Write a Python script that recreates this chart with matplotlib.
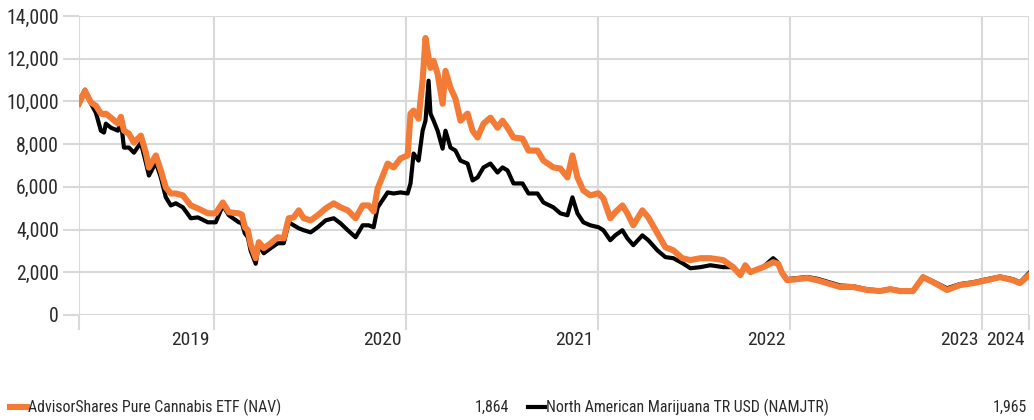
import matplotlib
matplotlib.use("Agg")
import matplotlib.pyplot as plt
import matplotlib.transforms as mtransforms
from matplotlib.lines import Line2D
from matplotlib import font_manager

# pick a condensed face if one is around
have = {f.name for f in font_manager.fontManager.ttflist}
fam = "Liberation Sans"
for cand in ["Roboto Condensed", "Liberation Sans Narrow", "Archivo Narrow", "PT Sans Narrow",
             "Open Sans Condensed", "Barlow Semi Condensed"]:
    if cand in have:
        fam = cand
        break
plt.rcParams['font.family'] = [fam, 'DejaVu Sans']

# dates as decimal years, values growth of 10,000
dates = [
    2019.298, 2019.329, 2019.360, 2019.386, 2019.412, 2019.428, 2019.438, 2019.464,
    2019.501, 2019.516, 2019.532, 2019.558, 2019.584, 2019.620, 2019.646, 2019.662,
    2019.698, 2019.724, 2019.750, 2019.776, 2019.802, 2019.839, 2019.880, 2019.917,
    2019.969, 2020.010, 2020.047, 2020.078, 2020.130, 2020.146, 2020.161, 2020.177,
    2020.192, 2020.218, 2020.234, 2020.260, 2020.296, 2020.333, 2020.364, 2020.390,
    2020.416, 2020.442, 2020.468, 2020.504, 2020.541, 2020.582, 2020.624, 2020.660,
    2020.697, 2020.738, 2020.775, 2020.806, 2020.832, 2020.853, 2020.905, 2020.936,
    2020.972, 2021.009, 2021.024, 2021.040, 2021.066, 2021.087, 2021.102, 2021.118,
    2021.128, 2021.144, 2021.165, 2021.191, 2021.206, 2021.232, 2021.258, 2021.284,
    2021.321, 2021.347, 2021.373, 2021.404, 2021.440, 2021.477, 2021.503, 2021.529,
    2021.560, 2021.607, 2021.638, 2021.685, 2021.716, 2021.768, 2021.804, 2021.841,
    2021.867, 2021.893, 2021.924, 2021.960, 2022.002, 2022.028, 2022.064, 2022.090,
    2022.127, 2022.153, 2022.184, 2022.231, 2022.262, 2022.309, 2022.351, 2022.392,
    2022.439, 2022.481, 2022.533, 2022.585, 2022.652, 2022.704, 2022.741, 2022.767,
    2022.793, 2022.860, 2022.912, 2022.938, 2022.959, 2022.985, 2023.037, 2023.089,
    2023.141, 2023.193, 2023.261, 2023.328, 2023.401, 2023.469, 2023.521, 2023.573,
    2023.640, 2023.692, 2023.744, 2023.817, 2023.885, 2023.952, 2024.025, 2024.093,
    2024.160, 2024.197, 2024.244,
]

yolo = [
    9900, 10500, 9950, 9800, 9430, 9400, 9430, 9240,
    8960, 9280, 8630, 8490, 8070, 8400, 7600, 6900,
    7470, 6770, 5970, 5690, 5690, 5600, 5130, 4990,
    4760, 4760, 5270, 4810, 4760, 4700, 4110, 3970,
    3300, 2660, 3410, 3130, 3360, 3640, 3590, 4530,
    4570, 4900, 4530, 4430, 4670, 4990, 5230, 5040,
    4900, 4530, 5130, 5130, 4850, 5930, 7090, 6910,
    7330, 7470, 9430, 9570, 9190, 10970, 12970, 12040,
    11570, 11900, 11290, 9890, 11430, 10640, 10130, 9100,
    9430, 8630, 8310, 8960, 9240, 8770, 9100, 8770,
    8310, 8260, 7700, 7700, 7230, 6910, 6860, 6440,
    7470, 6440, 5830, 5600, 5700, 5460, 4530, 4810,
    5130, 4760, 4200, 4900, 4570, 3830, 3170, 3030,
    2660, 2570, 2660, 2660, 2570, 2240, 1870, 2330,
    2010, 2240, 2470, 2400, 1960, 1630, 1680, 1730,
    1630, 1490, 1310, 1310, 1170, 1120, 1210, 1120,
    1120, 1770, 1540, 1170, 1400, 1490, 1630, 1770,
    1630, 1490, 1864,
]

namjtr = [
    10000, 10550, 9900, 9470, 8630, 8540, 8960, 8770,
    8630, 9100, 7840, 7840, 7600, 8070, 7140, 6530,
    7140, 6440, 5510, 5130, 5230, 5040, 4530, 4570,
    4340, 4340, 5130, 4670, 4340, 4300, 3830, 3640,
    3000, 2400, 3270, 2890, 3130, 3360, 3360, 4340,
    4200, 4060, 3970, 3870, 4110, 4430, 4530, 4290,
    3970, 3640, 4200, 4200, 4110, 5040, 5740, 5690,
    5740, 5690, 6160, 7560, 7230, 8630, 9100, 10970,
    9430, 9100, 8630, 7790, 8630, 7840, 7700, 7230,
    7090, 6300, 6440, 6910, 7090, 6670, 6910, 6770,
    6160, 6160, 5690, 5690, 5270, 5040, 4760, 4670,
    5510, 4760, 4340, 4200, 4110, 3970, 3500, 3730,
    3970, 3590, 3270, 3730, 3500, 3030, 2710, 2660,
    2430, 2190, 2240, 2330, 2240, 2240, 1900, 2300,
    2000, 2250, 2660, 2450, 2000, 1680, 1730, 1780,
    1700, 1560, 1380, 1350, 1200, 1150, 1230, 1150,
    1140, 1800, 1580, 1250, 1450, 1530, 1680, 1800,
    1680, 1530, 1965,
]

year_ends = [2020, 2021, 2022, 2023, 2024, 2024.244]
year_labels = ["2019", "2020", "2021", "2022", "2023", "2024"]
yticks = [0, 2000, 4000, 6000, 8000, 10000, 12000, 14000]

names = ["AdvisorShares Pure Cannabis ETF (NAV)", "North American Marijuana TR USD (NAMJTR)"]
end_values = ["1,864", "1,965"]

orange = "#f47b36"
text_c = "#2a2a2a"
grid_c = "#d9d9d9"

fig = plt.figure(figsize=(10.34, 4.2), dpi=100)
ax = fig.add_axes([79 / 1034, 1 - 315 / 420, 950 / 1034, 299 / 420])

ax.plot(dates, namjtr, color="black", lw=3.0, zorder=3, solid_joinstyle="round")
ax.plot(dates, yolo, color=orange, lw=4.4, zorder=4, solid_joinstyle="round")

ax.set_xlim(dates[0], year_ends[-1])
ax.set_ylim(0, 14000)

ax.set_yticks(yticks)
ax.set_yticklabels([f"{v:,}" for v in yticks])
ax.set_xticks([dates[0]] + year_ends)
ax.set_xticklabels([])
ax.grid(True, color=grid_c, lw=1.5, zorder=0)
ax.tick_params(axis="y", length=11.5, width=1.5, color=grid_c, labelsize=14.2,
               labelcolor=text_c, pad=3)
ax.tick_params(axis="x", length=11, width=1.5, color=grid_c)
for s in ax.spines.values():
    s.set_visible(False)

trans = mtransforms.blended_transform_factory(ax.transData, ax.transAxes)
off = mtransforms.offset_copy(trans, fig=fig, x=-4, y=0, units="dots")
for x, lab in zip(year_ends, year_labels):
    ax.text(x, -0.085, lab, transform=off, ha="right", va="center",
            fontsize=14, color=text_c)

# legend row at the bottom
leg_y = 1 - 407 / 420
for i, (col, lw) in enumerate([(orange, 4.4), ("black", 3.0)]):
    x0 = (10 + 518 * i) / 1034
    fig.add_artist(Line2D([x0, x0 + 17 / 1034], [leg_y, leg_y], color=col, lw=lw,
                          transform=fig.transFigure))
    fig.text(x0 + 18 / 1034, leg_y, names[i], ha="left", va="center",
             fontsize=11.4, color=text_c)
    fig.text((509 + 518 * i) / 1034, leg_y, end_values[i], ha="right", va="center",
             fontsize=11.4, color=text_c)

fig.savefig("out.png", dpi=100)
